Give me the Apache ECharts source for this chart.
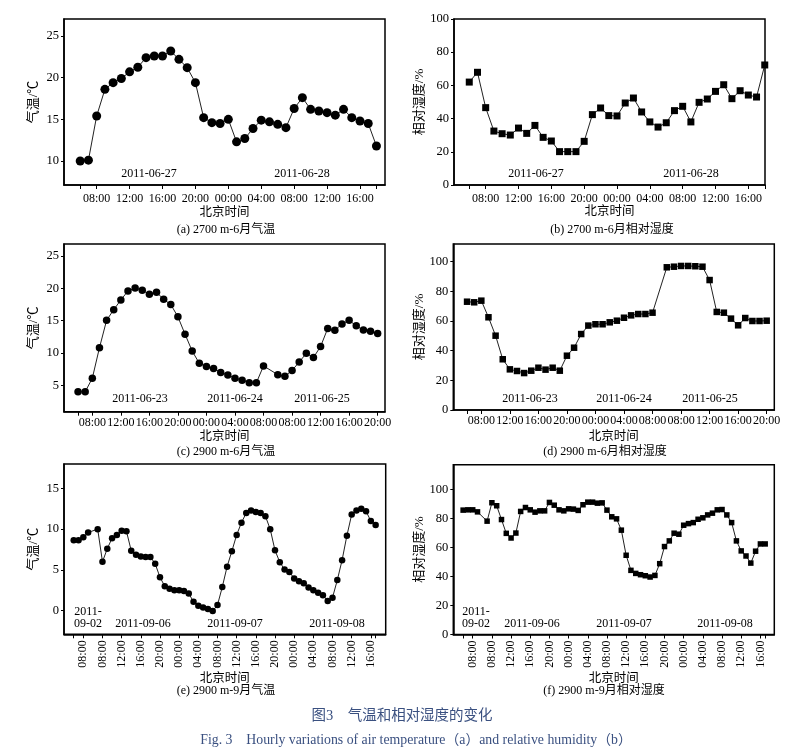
<!DOCTYPE html>
<html><head><meta charset="utf-8">
<script src="https://cdn.jsdelivr.net/npm/echarts@6/dist/echarts.min.js"></script>
<style>html,body{margin:0;padding:0;background:#fff}#c{width:798px;height:752px}</style>
</head><body><div id="c"></div>
<script>
// ---------- DATA ----------
// hourly slots (hours since 00:00 of first day; discontinuities reproduce the gaps of the original x axes)
const segsAB = [[6, 42]];                 // 06-27 06:00 … 06-28 18:00
const segsCD = [[6, 32], [34, 48]];       // 06-23 06:00 … 06-24 08:00 | 06-25 06:00 … 20:00
const segsEF = [[6, 9], [11, 69]];        // 09-02 06:00 … 11:00 | 09-06 08:00 … 09-08 17:00

// (a) 2700 m June air temperature (°C)
const tempA = [10.0,10.1,15.4,18.6,19.4,19.9,20.7,21.25,22.4,22.6,22.6,23.2,22.2,21.2,19.4,15.2,14.6,14.5,15.0,12.3,12.7,13.9,14.9,14.7,14.4,14.0,16.3,17.6,16.2,16.0,15.8,15.5,16.2,15.2,14.8,14.5,11.8];
// (b) 2700 m June relative humidity (%)
const rhB = [62.0,67.9,46.6,32.5,30.9,30.1,34.3,31.1,35.9,28.7,26.5,20.1,20.1,20.1,26.3,42.4,46.4,41.8,41.6,49.4,52.4,44.0,38.0,34.9,37.5,44.8,47.4,38.0,49.8,51.8,56.4,60.4,52.0,56.8,54.2,53.0,72.3];
// (c) 2900 m June air temperature (°C)
const tempC = [4.0,4.0,6.1,10.8,15.05,16.7,18.2,19.6,20.05,19.7,19.1,19.4,18.3,17.5,15.6,12.9,10.3,8.4,7.9,7.6,7.0,6.6,6.1,5.8,5.4,5.4,8.0,
               6.65,6.4,7.3,8.6,9.95,9.3,11.0,13.8,13.5,14.5,15.05,14.2,13.55,13.35,13.0];
// (d) 2900 m June relative humidity (%)
const rhD = [73.0,72.6,73.7,62.5,50.1,34.2,27.4,26.3,24.9,26.5,28.5,27.2,28.5,26.5,36.6,42.0,51.2,56.9,57.8,57.8,59.1,60.2,62.2,63.8,64.7,64.7,65.6,
             96.2,96.6,97.1,97.1,96.9,96.6,87.6,66.1,65.6,61.6,57.1,62.0,60.0,60.0,60.2];
// (e) 2900 m September air temperature (°C)
const tempE = [8.65,8.65,9.0,9.6,10.0,
               6.0,7.6,8.9,9.3,9.8,9.75,7.35,6.85,6.65,6.6,6.6,5.75,4.1,3.0,2.7,2.5,2.5,2.4,2.1,1.1,0.6,0.4,0.2,-0.05,0.7,2.9,5.4,7.3,9.3,10.8,
               12.0,12.3,12.1,12.0,11.6,10.0,7.4,5.95,5.05,4.75,3.95,3.6,3.35,2.85,2.5,2.2,1.9,1.2,1.6,3.75,6.2,9.2,11.8,12.3,12.5,12.2,11.0,10.5];
// (f) 2900 m September relative humidity (%)
const rhF = [85.7,85.9,85.9,84.5,78.1,
             90.8,88.7,79.2,69.7,66.5,69.9,84.8,87.5,85.9,84.3,85.2,85.2,91.0,89.1,85.9,85.2,86.6,86.4,85.5,89.4,91.2,91.2,90.5,90.7,85.7,
             81.1,79.7,71.9,54.6,44.2,42.1,41.2,40.5,39.6,40.7,48.8,60.6,64.5,69.8,69.1,75.3,76.4,77.1,79.4,80.4,82.4,83.6,85.9,86.1,82.4,
             77.1,64.5,57.6,54.1,49.2,57.4,62.4,62.4];

// x tick positions and labels
const tickValsAB = [8,12,16,20,24,28,32,36,40];
const tickLblsAB = ['08:00','12:00','16:00','20:00','00:00','04:00','08:00','12:00','16:00'];
const tickValsCD = [8,12,16,20,24,28,32,36,40,44,48];
const tickLblsCD = ['08:00','12:00','16:00','20:00','00:00','04:00','08:00','08:00','12:00','16:00','20:00'];
const tickValsEF = [8,12,16,20,24,28,32,36,40,44,48,52,56,60,64,68];
const tickLblsEF = ['08:00','08:00','12:00','16:00','20:00','00:00','04:00','08:00','12:00','16:00','20:00','00:00','04:00','08:00','12:00','16:00'];
// y tick labels
const yTicksA = [10,15,20,25];
const yTicksB = [0,20,40,60,80,100];
const yTicksC = [5,10,15,20,25];
const yTicksD = [0,20,40,60,80,100];
const yTicksE = [0,5,10,15];
const yTicksF = [0,20,40,60,80,100];

const subtitles = ['(a) 2700 m-6月气温','(b) 2700 m-6月相对湿度','(c) 2900 m-6月气温','(d) 2900 m-6月相对湿度','(e) 2900 m-9月气温','(f) 2900 m-9月相对湿度'];
const yNameT = '气温/℃', yNameRH = '相对湿度/%', xName = '北京时间';
const caption1 = '图3　气温和相对湿度的变化';
const caption2 = 'Fig. 3　Hourly variations of air temperature（a）and relative humidity（b）';

// ---------- BUILD ----------
const FONT = "'Liberation Serif','Times New Roman','Noto Sans CJK SC',serif";
function slots(segs){const xs=[];segs.forEach(([a,b])=>{for(let h=a;h<=b;h++)xs.push(h);});return xs;}
const xsAB = slots(segsAB), xsCD = slots(segsCD), xsEF = slots(segsEF);

const panels = [
 {grid:{left:64,top:19,width:321,height:166}, xr:[4.03,43.04], yr:[7.12,27.04], xs:xsAB, v:tempA, tv:tickValsAB, tl:tickLblsAB, yt:yTicksA, yn:yNameT, sym:'circle', ss:9, rot:0, lm:8, ng:21},
 {grid:{left:454,top:19,width:311,height:166}, xr:[4.14,42.03], yr:[0,100], xs:xsAB, v:rhB, tv:tickValsAB, tl:tickLblsAB, yt:yTicksB, yn:yNameRH, sym:'rect', ss:7, rot:0, lm:8, ng:20},
 {grid:{left:64,top:244,width:321,height:167.7}, xr:[4.03,49.03], yr:[0.92,26.86], xs:xsCD, v:tempC, tv:tickValsCD, tl:tickLblsCD, yt:yTicksC, yn:yNameT, sym:'circle', ss:7.5, rot:0, lm:5, ng:19},
 {grid:{left:453.3,top:244,width:321,height:166}, xr:[4.07,49.07], yr:[0,111.9], xs:xsCD, v:rhD, tv:tickValsCD, tl:tickLblsCD, yt:yTicksD, yn:yNameRH, sym:'rect', ss:6.5, rot:0, lm:5, ng:20},
 {grid:{left:64,top:464,width:321.7,height:170.3}, xr:[3.97,71.1], yr:[-2.9,18], xs:xsEF, v:tempE, tv:tickValsEF, tl:tickLblsEF, yt:yTicksE, yn:yNameT, sym:'circle', ss:6.5, rot:90, lm:6, ng:38},
 {grid:{left:453.3,top:464.7,width:321,height:169.8}, xr:[3.95,70.9], yr:[0,117], xs:xsEF, v:rhF, tv:tickValsEF, tl:tickLblsEF, yt:yTicksF, yn:yNameRH, sym:'rect', ss:5.5, rot:90, lm:6, ng:38}
];

const grids=[],xAxes=[],yAxes=[],series=[];
panels.forEach((p,i)=>{
  grids.push(Object.assign({show:true,borderColor:'#000',borderWidth:1.5,backgroundColor:'transparent'},p.grid));
  const tickMarks = p.tv.slice();
  if (tickMarks.indexOf(p.xs[0])<0) tickMarks.unshift(p.xs[0]);
  const last = p.xs[p.xs.length-1];
  if (tickMarks.indexOf(last)<0) tickMarks.push(last);
  xAxes.push({type:'value',gridIndex:i,min:p.xr[0],max:p.xr[1],
    name:xName,nameLocation:'middle',nameGap:p.ng,
    nameTextStyle:{fontFamily:FONT,fontSize:12.5,color:'#000'},
    axisLine:{show:true,onZero:false,lineStyle:{color:'#000',width:1.5}},
    axisTick:{show:true,length:4,customValues:tickMarks,lineStyle:{color:'#000',width:1}},
    axisLabel:{show:true,customValues:p.tv,rotate:p.rot,margin:p.lm,fontFamily:FONT,fontSize:12,color:'#000',
      formatter:(val)=>{const k=p.tv.indexOf(Math.round(val));return k>=0?p.tl[k]:'';}},
    splitLine:{show:false}});
  yAxes.push({type:'value',gridIndex:i,min:p.yr[0],max:p.yr[1],
    name:p.yn,nameLocation:'middle',nameGap:i%2?26:24,nameRotate:90,
    nameTextStyle:{fontFamily:FONT,fontSize:13,color:'#000'},
    axisLine:{show:true,onZero:false,lineStyle:{color:'#000',width:1.5}},
    axisTick:{show:true,length:3,customValues:p.yt,lineStyle:{color:'#000',width:1}},
    axisLabel:{show:true,customValues:p.yt,margin:5,fontFamily:FONT,fontSize:12.5,color:'#000'},
    splitLine:{show:false}});
  series.push({type:'line',xAxisIndex:i,yAxisIndex:i,data:p.xs.map((x,k)=>[x,p.v[k]]),
    symbol:p.sym,symbolSize:p.ss,showSymbol:true,itemStyle:{color:'#000'},
    lineStyle:{color:'#222',width:1},silent:true,animation:false});
});

function txt(x,y,s,opt){return Object.assign({type:'text',x:x,y:y,style:Object.assign({text:s,font:'12px '+FONT,fill:'#000',textAlign:'center',textVerticalAlign:'middle'},opt||{})});}
const graphics=[];
// in-plot date labels
[['2011-06-27',149,174],['2011-06-28',302,174],['2011-06-27',536,174],['2011-06-28',691,174],
 ['2011-06-23',140,399],['2011-06-24',235,399],['2011-06-25',322,399],
 ['2011-06-23',530,399],['2011-06-24',624,399],['2011-06-25',710,399],
 ['2011-',88,611.5],['09-02',88,624.3],['2011-09-06',143,624.3],['2011-09-07',235,624.3],['2011-09-08',337,624.3],
 ['2011-',476,611.5],['09-02',476,624.3],['2011-09-06',532,624.3],['2011-09-07',624,624.3],['2011-09-08',725,624.3]
].forEach(d=>graphics.push(txt(d[1],d[2],d[0])));
// subtitles
[[226,229.5],[612,229.5],[226,451.7],[605,451.7],[226,691],[604,691]].forEach((c,i)=>graphics.push(txt(c[0],c[1],subtitles[i],{font:'12px '+FONT})));
// captions
graphics.push(txt(402,716.5,caption1,{font:'14.5px '+FONT,fill:'#3a5080'}));
graphics.push(txt(416,740,caption2,{font:'13.8px '+FONT,fill:'#3a5080'}));

const chart = echarts.init(document.getElementById('c'),null,{renderer:'canvas'});
chart.setOption({animation:false,backgroundColor:'#fff',grid:grids,xAxis:xAxes,yAxis:yAxes,series:series,graphic:graphics});
</script></body></html>
